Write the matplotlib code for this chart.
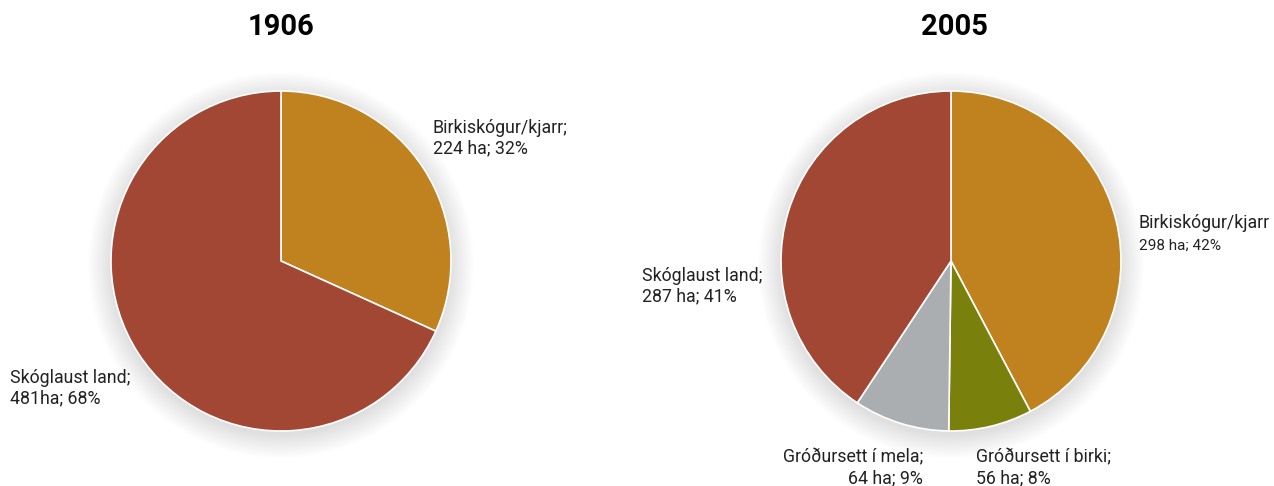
import matplotlib
matplotlib.use("Agg")
import matplotlib.pyplot as plt
from matplotlib.patches import Circle

plt.rcParams["font.family"] = ["Roboto", "DejaVu Sans"]

# gögn
ar = ["1906", "2005"]
flokkar_1906 = ["Birkiskógur/kjarr", "Skóglaust land"]
ha_1906 = [224, 481]
flokkar_2005 = ["Birkiskógur/kjarr", "Gróðursett í birki", "Gróðursett í mela", "Skóglaust land"]
ha_2005 = [298, 56, 64, 287]

litir = {
    "Birkiskógur/kjarr": "#c0821e",
    "Skóglaust land": "#a34735",
    "Gróðursett í birki": "#7a800c",
    "Gróðursett í mela": "#abaeb1",
}

W, H = 1274, 486
fig = plt.figure(figsize=(W / 100, H / 100), dpi=100)
fig.patch.set_facecolor("white")


def px(x, y):
    return x / W, 1 - y / H


def pie_ax(cx, cy, r=170):
    return fig.add_axes([(cx - r) / W, (H - cy - r) / H, 2 * r / W, 2 * r / H])


def teikna(ax, flokkar, gildi):
    # mjúkur skuggi
    for i in range(16):
        ax.add_patch(Circle((0, -0.025), 1.0 + 0.009 * i, color="black",
                            alpha=0.007, lw=0, zorder=0, clip_on=False))
    wedges, _ = ax.pie(gildi, colors=[litir[f] for f in flokkar], startangle=90,
                       counterclock=False, radius=1.0,
                       wedgeprops=dict(edgecolor="white", linewidth=1.2))
    for w in wedges:
        w.set_clip_on(False)
    ax.set_xlim(-1, 1)
    ax.set_ylim(-1, 1)
    ax.set_aspect("equal")
    ax.axis("off")


ax1 = pie_ax(281, 261)
teikna(ax1, flokkar_1906, ha_1906)
ax2 = pie_ax(951, 261)
teikna(ax2, flokkar_2005, ha_2005)

# titlar
fig.text(*px(281, 27), ar[0], ha="center", va="center", fontsize=21, fontweight="bold")
fig.text(*px(954, 27), ar[1], ha="center", va="center", fontsize=21, fontweight="bold")

fs = 12.8
tc = "#222222"
fig.text(*px(433, 138), f"{flokkar_1906[0]};\n{ha_1906[0]} ha; 32%", ha="left",
         va="center", fontsize=fs, color=tc, linespacing=1.2)
fig.text(*px(10, 388), f"{flokkar_1906[1]};\n{ha_1906[1]}ha; 68%", ha="left",
         va="center", fontsize=fs, color=tc, linespacing=1.2)

fig.text(*px(1139, 223), flokkar_2005[0], ha="left", va="center", fontsize=fs, color=tc)
fig.text(*px(1139, 246), f"{ha_2005[0]} ha; 42%", ha="left", va="center",
         fontsize=11, color=tc)
fig.text(*px(642, 286), f"{flokkar_2005[3]};\n{ha_2005[3]} ha; 41%", ha="left",
         va="center", fontsize=fs, color=tc, linespacing=1.2)
fig.text(*px(923, 468), f"{flokkar_2005[2]};\n{ha_2005[2]} ha; 9%", ha="right",
         va="center", fontsize=fs, color=tc, linespacing=1.2, multialignment="right")
fig.text(*px(976, 468), f"{flokkar_2005[1]};\n{ha_2005[1]} ha; 8%", ha="left",
         va="center", fontsize=fs, color=tc, linespacing=1.2)

fig.savefig("out.png", dpi=100, facecolor="white")
